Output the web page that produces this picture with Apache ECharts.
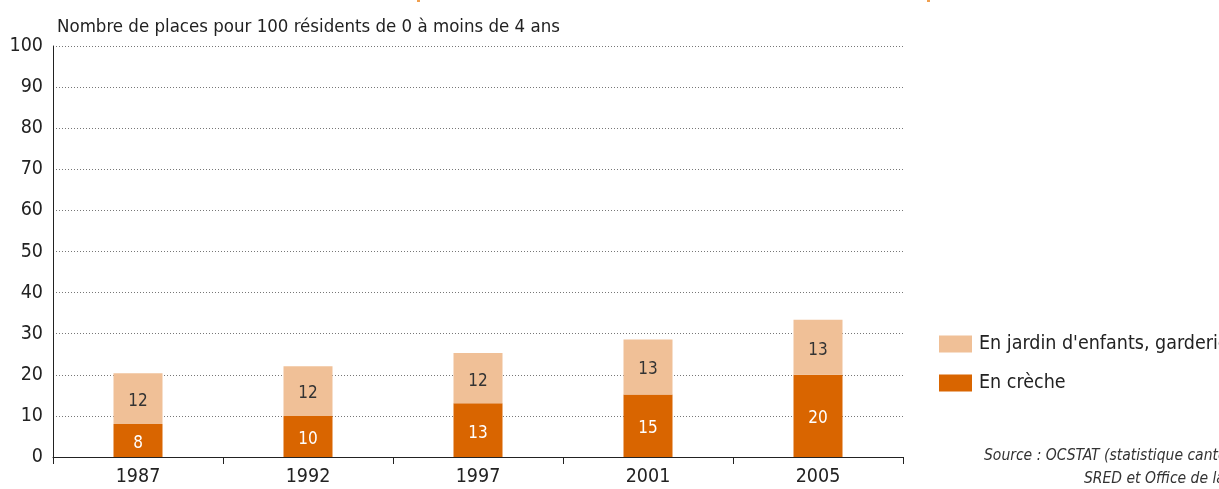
<!DOCTYPE html>
<html>
<head>
<meta charset="utf-8">
<style>
  html, body { margin: 0; padding: 0; background: #fff; }
  #chart { width: 1219px; height: 489px; }
</style>
<script src="https://cdn.jsdelivr.net/npm/echarts@6/dist/echarts.min.js"></script>
</head>
<body>
<div id="chart"></div>
<script>
// data
const years = ['1987', '1992', '1997', '2001', '2005']
const creche = [8.0, 10.0, 13.1, 15.2, 20.0]
const jardin = [12.4, 12.1, 12.2, 13.4, 13.4]
const yTicks = [0, 10, 20, 30, 40, 50, 60, 70, 80, 90, 100]

const font = "'Liberation Sans Narrow', 'DejaVu Sans Condensed', sans-serif"
const dark = '#d96500'
const light = '#f0c097'

const chart = echarts.init(document.getElementById('chart'))

chart.setOption({
  animation: false,
  textStyle: { fontFamily: font },
  grid: {
    left: 53,
    right: 316,
    top: 46,
    bottom: 32
  },
  title: {
    text: 'Nombre de places pour 100 résidents de 0 à moins de 4 ans',
    left: 52,
    top: 13,
    textStyle: { fontFamily: font, fontSize: 18.5, fontWeight: 'normal', color: '#222' }
  },
  legend: {
    orient: 'vertical',
    left: 934,
    top: 329,
    itemWidth: 33,
    itemHeight: 17,
    itemGap: 19,
    icon: 'rect',
    data: ['En jardin d\'enfants, garderie', 'En crèche'],
    textStyle: { fontFamily: font, fontSize: 19.5, color: '#222', padding: [0, 0, 0, 2] }
  },
  xAxis: {
    type: 'category',
    data: years,
    axisLine: { lineStyle: { color: '#222', width: 1 } },
    axisTick: { show: true, length: 7, lineStyle: { color: '#222' } },
    axisLabel: { fontFamily: font, fontSize: 19.5, color: '#222', margin: 10 }
  },
  yAxis: {
    type: 'value',
    min: yTicks[0],
    max: yTicks[yTicks.length - 1],
    interval: 10,
    axisLine: { show: true, lineStyle: { color: '#222', width: 1 } },
    axisTick: { show: false },
    axisLabel: { fontFamily: font, fontSize: 19.5, color: '#222', margin: 10 },
    splitLine: { lineStyle: { color: '#777', type: [1, 2], width: 1 } }
  },
  series: [
    {
      name: 'En crèche',
      type: 'bar',
      stack: 'total',
      barWidth: 49,
      data: creche,
      itemStyle: { color: dark },
      label: {
        show: true,
        position: 'inside',
        formatter: p => Math.round(p.value),
        fontFamily: font,
        fontSize: 17,
        color: '#fff',
        offset: [0, 3]
      }
    },
    {
      name: 'En jardin d\'enfants, garderie',
      type: 'bar',
      stack: 'total',
      barWidth: 49,
      data: jardin,
      itemStyle: { color: light },
      label: {
        show: true,
        position: 'inside',
        formatter: p => Math.round(p.value),
        fontFamily: font,
        fontSize: 17,
        color: '#333',
        offset: [0, 3]
      }
    }
  ],
  graphic: [
    {
      type: 'text',
      left: 984,
      top: 448,
      style: {
        text: 'Source : OCSTAT (statistique cantonale),',
        font: 'italic 15.5px ' + font,
        fill: '#333'
      }
    },
    {
      type: 'text',
      left: 1084,
      top: 471,
      style: {
        text: 'SRED et Office de la jeunesse',
        font: 'italic 15.5px ' + font,
        fill: '#333'
      }
    },
    { type: 'rect', left: 417, top: 0, shape: { width: 3, height: 2 }, style: { fill: '#f0a050' } },
    { type: 'rect', left: 927, top: 0, shape: { width: 3, height: 2 }, style: { fill: '#f0a050' } }
  ]
})
</script>
</body>
</html>
